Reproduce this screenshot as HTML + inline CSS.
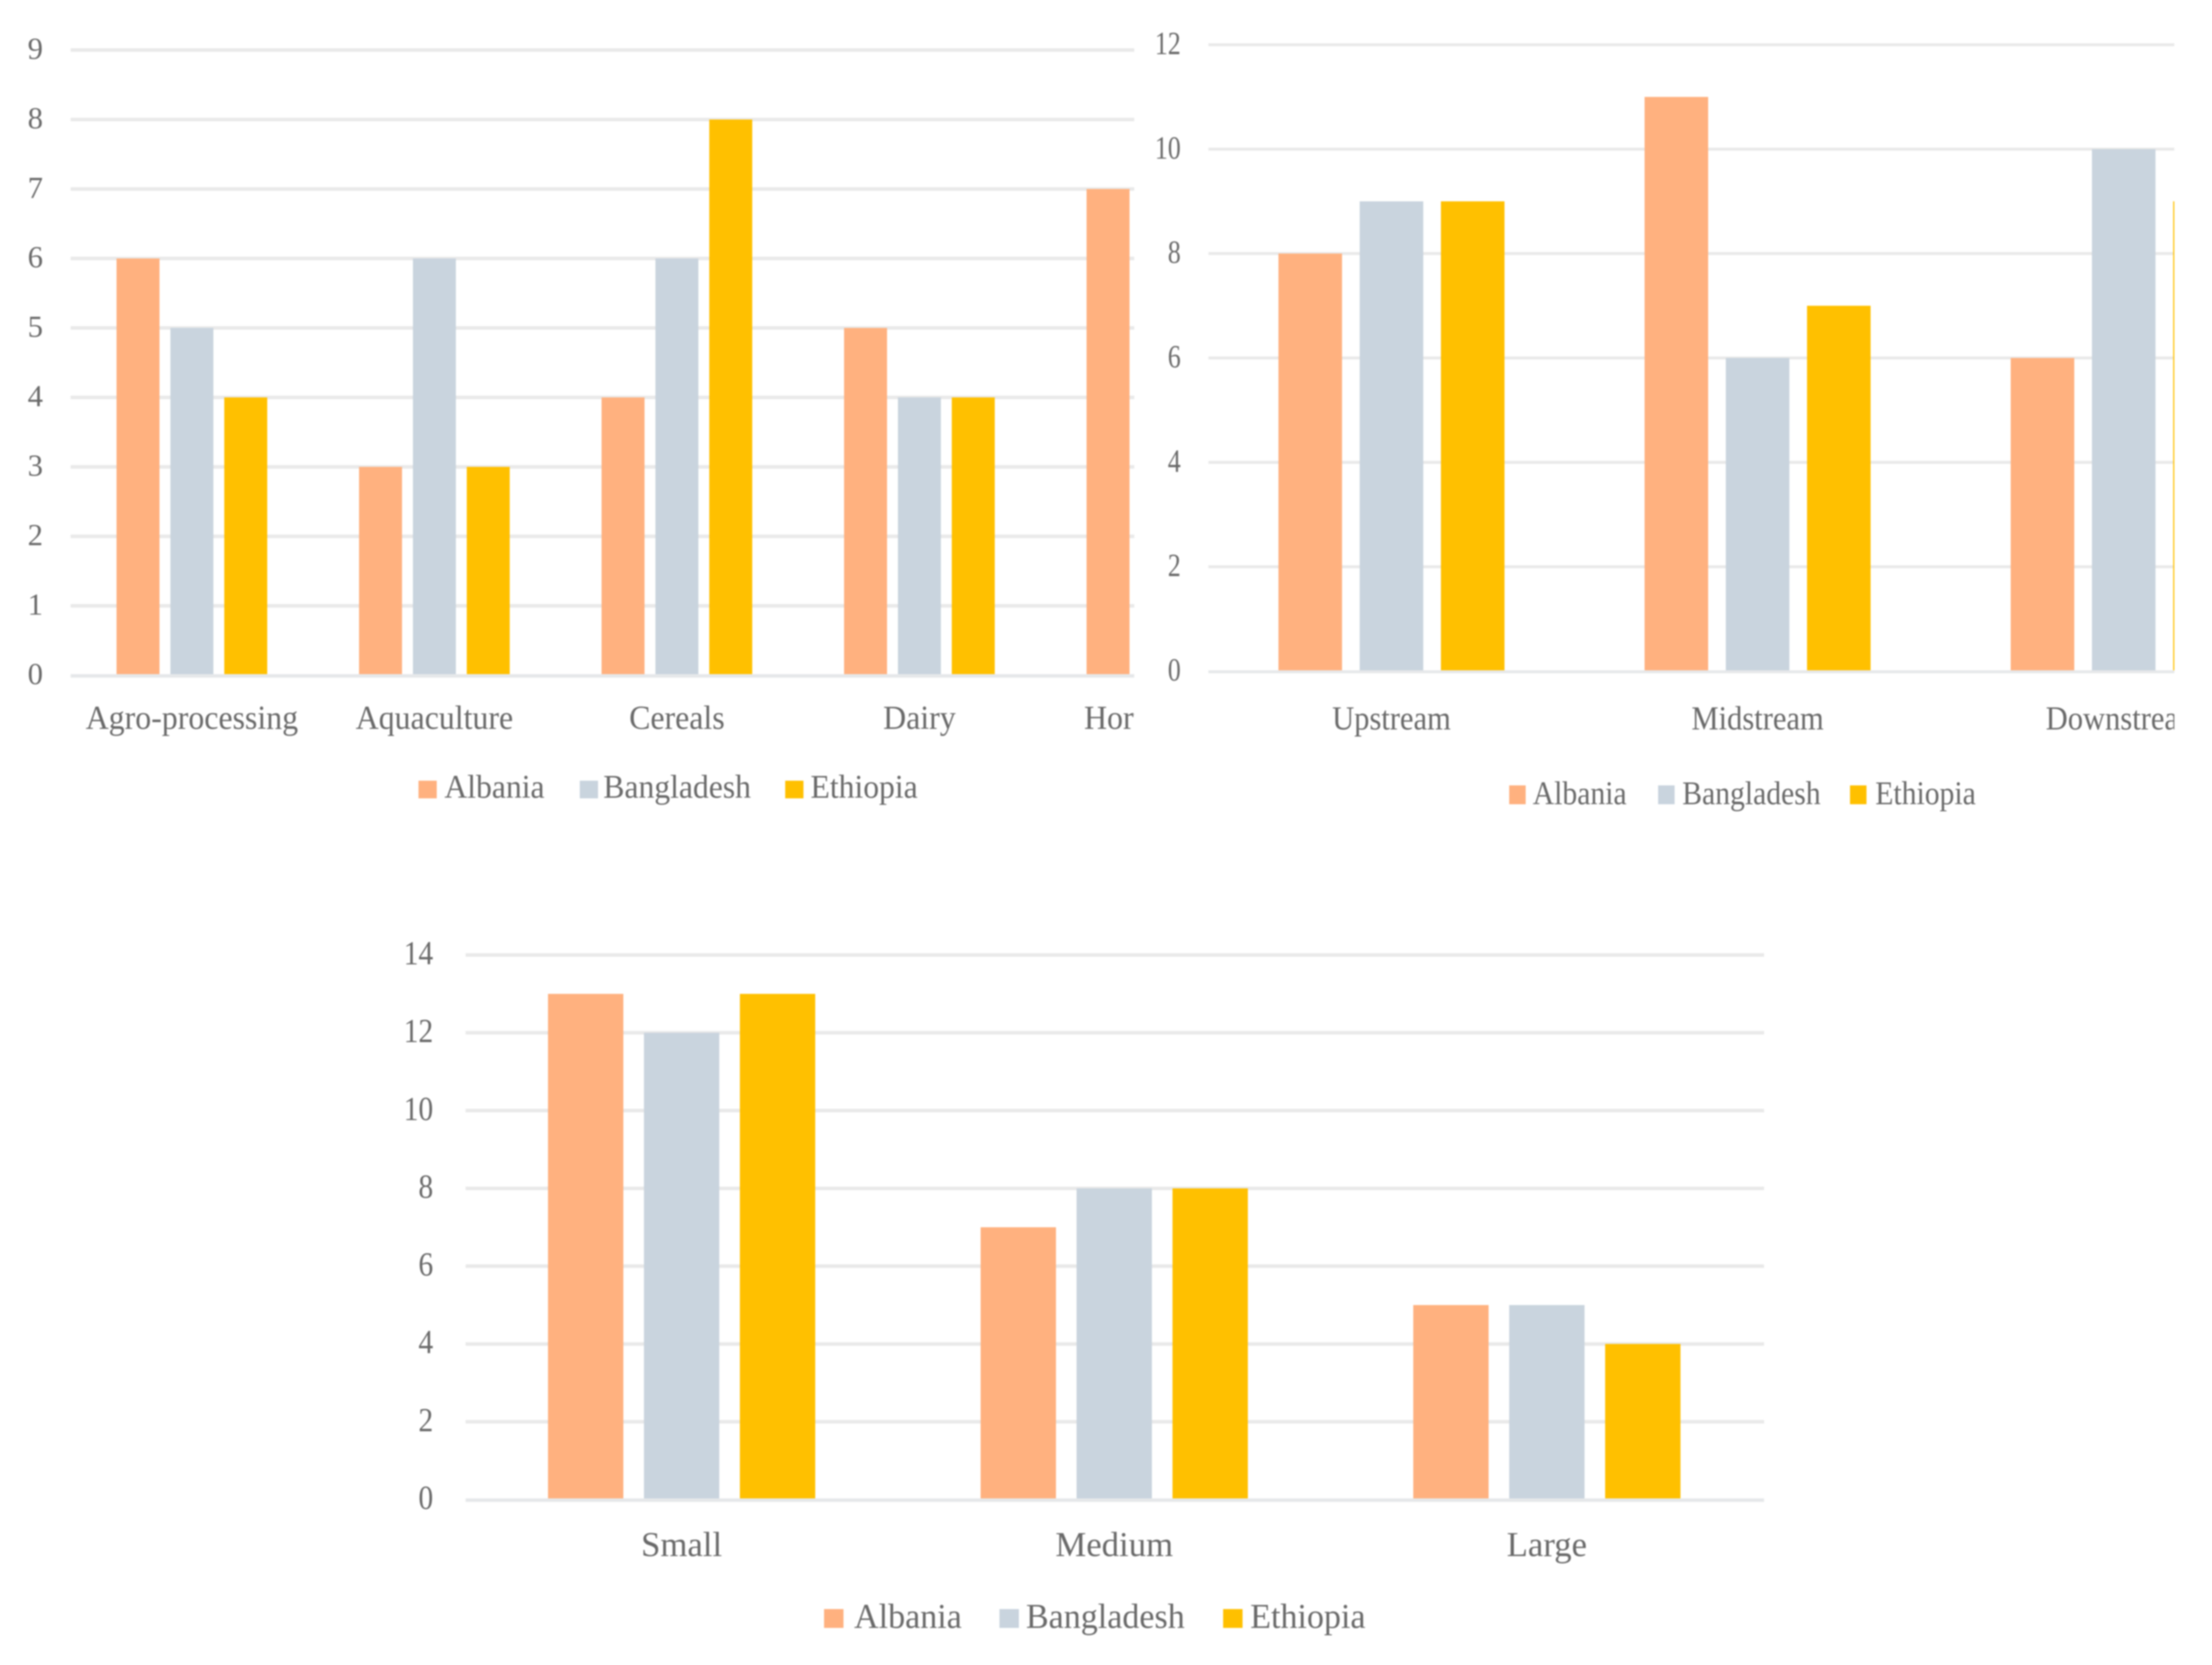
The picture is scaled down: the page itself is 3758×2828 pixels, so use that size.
<!DOCTYPE html>
<html lang="en">
<head>
<meta charset="utf-8">
<title>Albania, Bangladesh and Ethiopia bar charts</title>
<style>
  html, body { margin: 0; padding: 0; background: #ffffff; }
  body { width: 3758px; height: 2828px; overflow: hidden; }
  svg { display: block; filter: blur(1.2px); }
  text { font-family: "Liberation Serif", "DejaVu Serif", serif; fill: #696969; }
</style>
</head>
<body>
<svg id="figure" xmlns="http://www.w3.org/2000/svg" width="3758" height="2828" viewBox="0 0 3758 2828">
  <rect x="0" y="0" width="3758" height="2828" fill="#ffffff"/>
  <g id="chart-sector"></g>
  <g id="chart-stage"></g>
  <g id="chart-size"></g>
</svg>
<script>
// Shared series names
const seriesNames = ["Albania", "Bangladesh", "Ethiopia"];
const seriesColors = ["#ffb17f", "#c9d4de", "#ffc000"];

// Top-left chart
const sectorCategories = ["Agro-processing", "Aquaculture", "Cereals", "Dairy", "Horticulture"];
const sectorAlbania = [6, 3, 4, 5, 7];
const sectorBangladesh = [5, 6, 6, 4, 5];
const sectorEthiopia = [4, 3, 8, 4, 6];
const sectorTicks = [0, 1, 2, 3, 4, 5, 6, 7, 8, 9];

// Top-right chart
const stageCategories = ["Upstream", "Midstream", "Downstream"];
const stageAlbania = [8, 11, 6];
const stageBangladesh = [9, 6, 10];
const stageEthiopia = [9, 7, 9];
const stageTicks = [0, 2, 4, 6, 8, 10, 12];

// Bottom chart
const sizeCategories = ["Small", "Medium", "Large"];
const sizeAlbania = [13, 7, 5];
const sizeBangladesh = [12, 8, 5];
const sizeEthiopia = [13, 8, 4];
const sizeTicks = [0, 2, 4, 6, 8, 10, 12, 14];

const SVG_NS = "http://www.w3.org/2000/svg";

function makeRect(parent, x, y, w, h, fill) {
  const r = document.createElementNS(SVG_NS, "rect");
  r.setAttribute("x", x);
  r.setAttribute("y", y);
  r.setAttribute("width", w);
  r.setAttribute("height", h);
  r.setAttribute("fill", fill);
  parent.appendChild(r);
  return r;
}

function makeText(parent, str, x, y, size, sx, anchor) {
  const t = document.createElementNS(SVG_NS, "text");
  t.setAttribute("transform", "translate(" + x + "," + y + ") scale(" + sx + ",1)");
  t.setAttribute("font-size", size);
  t.setAttribute("text-anchor", anchor);
  t.textContent = str;
  parent.appendChild(t);
  return t;
}

function drawChart(root, id, categories, series, ticks, layout) {
  const yOf = function (v) { return layout.y0 - layout.unit * v; };
  const xOf = function (c, s) { return layout.x0 + layout.step * c + layout.offset * s; };

  const defs = document.createElementNS(SVG_NS, "defs");
  const clip = document.createElementNS(SVG_NS, "clipPath");
  clip.setAttribute("id", "clip-" + id);
  makeRect(clip, layout.gridLeft - 10, 0, layout.gridRight - layout.gridLeft + 10, 2828, "#000");
  defs.appendChild(clip);
  root.appendChild(defs);

  const clipped = document.createElementNS(SVG_NS, "g");
  clipped.setAttribute("clip-path", "url(#clip-" + id + ")");
  
  
  root.appendChild(clipped);

  ticks.forEach(function (tick) {
    if (tick === 0) return;
    const line = makeRect(clipped, layout.gridLeft, yOf(tick) - layout.gridH / 2, layout.gridRight - layout.gridLeft, layout.gridH, "#e9e9e9");
    
    
  });

  series.forEach(function (values, s) {
    values.forEach(function (v, c) {
      const bar = makeRect(clipped, xOf(c, s), yOf(v), layout.barW, yOf(0) - yOf(v), seriesColors[s]);
      
      
    });
  });

  const axis = makeRect(clipped, layout.gridLeft, yOf(0) - layout.gridH / 2 + 1, layout.gridRight - layout.gridLeft, layout.gridH, "#e6e8ea");
  
  

  categories.forEach(function (name, c) {
    const label = makeText(clipped, name, xOf(c, 1) + layout.barW / 2, layout.catBaseline, layout.catSize, layout.catScale, "middle");
    
    
  });

  ticks.forEach(function (tick) {
    const label = makeText(root, String(tick), layout.tickRight, yOf(tick) + layout.tickDrop, layout.tickSize, layout.tickScale, "end");
    
    
  });

  seriesNames.forEach(function (name, s) {
    const group = document.createElementNS(SVG_NS, "g");
    
    
    root.appendChild(group);
    const swatch = makeRect(group, layout.legendSwatchX[s], layout.legendSwatchY, layout.legendSwatchW, layout.legendSwatchH, seriesColors[s]);
    
    
    const label = makeText(group, name, layout.legendTextX[s], layout.legendBaseline, layout.legendSize, layout.legendScale, "start");
    
    
  });
}

drawChart(document.getElementById("chart-sector"), "sector", sectorCategories,
  [sectorAlbania, sectorBangladesh, sectorEthiopia], sectorTicks, {
    y0: 1147, unit: 118, x0: 198, step: 412, offset: 91.5, barW: 73,
    gridLeft: 120, gridRight: 1927, gridH: 6,
    catBaseline: 1238, catSize: 57, catScale: 0.95,
    tickRight: 73, tickDrop: 15, tickSize: 52, tickScale: 1,
    legendSwatchX: [711, 985, 1334], legendTextX: [755, 1025, 1377],
    legendSwatchY: 1326, legendSwatchW: 31, legendSwatchH: 30,
    legendBaseline: 1355, legendSize: 56, legendScale: 0.96
  });

drawChart(document.getElementById("chart-stage"), "stage", stageCategories,
  [stageAlbania, stageBangladesh, stageEthiopia], stageTicks, {
    y0: 1140, unit: 88.67, x0: 2172, step: 622, offset: 138, barW: 108,
    gridLeft: 2053, gridRight: 3694, gridH: 5,
    catBaseline: 1239, catSize: 57, catScale: 0.91,
    tickRight: 2006, tickDrop: 16, tickSize: 55, tickScale: 0.8,
    legendSwatchX: [2564, 2817, 3143], legendTextX: [2604, 2858, 3186],
    legendSwatchY: 1334, legendSwatchW: 28, legendSwatchH: 32,
    legendBaseline: 1366, legendSize: 56, legendScale: 0.9
  });

drawChart(document.getElementById("chart-size"), "size", sizeCategories,
  [sizeAlbania, sizeBangladesh, sizeEthiopia], sizeTicks, {
    y0: 2547, unit: 66.07, x0: 931, step: 735, offset: 163, barW: 128,
    gridLeft: 791, gridRight: 2997, gridH: 6,
    catBaseline: 2643, catSize: 59, catScale: 1,
    tickRight: 736, tickDrop: 16, tickSize: 57, tickScale: 0.88,
    legendSwatchX: [1400, 1698, 2078], legendTextX: [1451, 1743, 2124],
    legendSwatchY: 2733, legendSwatchW: 33, legendSwatchH: 32,
    legendBaseline: 2765, legendSize: 59, legendScale: 0.98
  });
</script>
</body>
</html>
